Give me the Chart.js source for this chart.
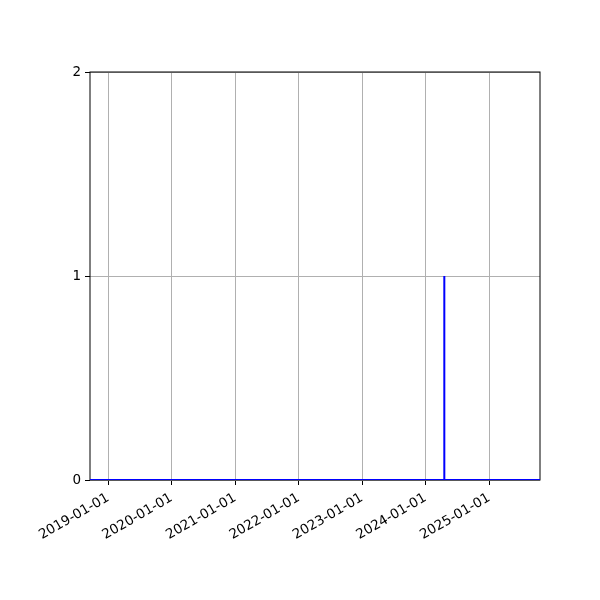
<!DOCTYPE html>
<html>
<head>
<meta charset="utf-8">
<script src="https://cdn.jsdelivr.net/npm/chart.js@4.4.1/dist/chart.umd.min.js"></script>
<style>
  html, body { margin: 0; padding: 0; background: #fff; }
</style>
</head>
<body>
<canvas id="myChart" width="600" height="600"></canvas>
<script>
// dates and values of the series (one spike in April 2024)
const dates = ['2018-09-19', '2024-04-17', '2024-04-18', '2024-04-19', '2025-10-21'];
const values = [0, 0, 1, 0, 0];
const tickYears = [2019, 2020, 2021, 2022, 2023, 2024, 2025];
const yTicks = [0, 1, 2];

const ctx = document.getElementById('myChart');

function toTime(s) {
  return Date.parse(s + 'T00:00:00Z');
}

function fmtDate(v) {
  return new Date(v).toISOString().slice(0, 10);
}

// frame around the plot, drawn under the line
const boxPlugin = {
  id: 'box',
  beforeDatasetsDraw(chart) {
    const a = chart.chartArea;
    const c = chart.ctx;
    c.save();
    c.strokeStyle = '#000';
    c.lineWidth = 1;
    c.strokeRect(a.left, a.top, a.right - a.left, a.bottom - a.top);
    c.restore();
  }
};

const font = { family: 'DejaVu Sans', size: 13.5 };

const chart = new Chart(ctx, {
  type: 'line',
  data: {
    datasets: [{
      data: dates.map((d, i) => ({ x: toTime(d), y: values[i] })),
      borderColor: '#0000ff',
      borderWidth: 2,
      pointRadius: 0,
      tension: 0,
      fill: false
    }]
  },
  options: {
    responsive: false,
    animation: false,
    devicePixelRatio: 1,
    layout: { padding: { left: 0, right: 60, top: 72, bottom: 0 } },
    plugins: { legend: { display: false }, tooltip: { enabled: false } },
    scales: {
      x: {
        type: 'linear',
        min: toTime(dates[0]),
        max: toTime(dates[dates.length - 1]),
        afterBuildTicks: (scale) => {
          scale.ticks = tickYears.map(y => ({ value: Date.UTC(y, 0, 1) }));
        },
        afterFit: (scale) => { scale.height = 120; },
        grid: { color: '#b0b0b0', lineWidth: 1, tickColor: '#000', tickLength: 5, tickWidth: 1 },
        border: { display: false },
        ticks: {
          font: font,
          color: '#000',
          minRotation: 30,
          maxRotation: 30,
          padding: 5,
          autoSkip: false,
          callback: (v) => fmtDate(v)
        }
      },
      y: {
        min: 0,
        max: 2,
        afterBuildTicks: (scale) => {
          scale.ticks = yTicks.map(v => ({ value: v }));
        },
        afterFit: (scale) => { scale.width = 90; },
        grid: { color: '#b0b0b0', lineWidth: 1, tickColor: '#000', tickLength: 5, tickWidth: 1 },
        border: { display: false },
        ticks: { font: font, color: '#000', padding: 4 }
      }
    }
  },
  plugins: [boxPlugin]
});
</script>
</body>
</html>
